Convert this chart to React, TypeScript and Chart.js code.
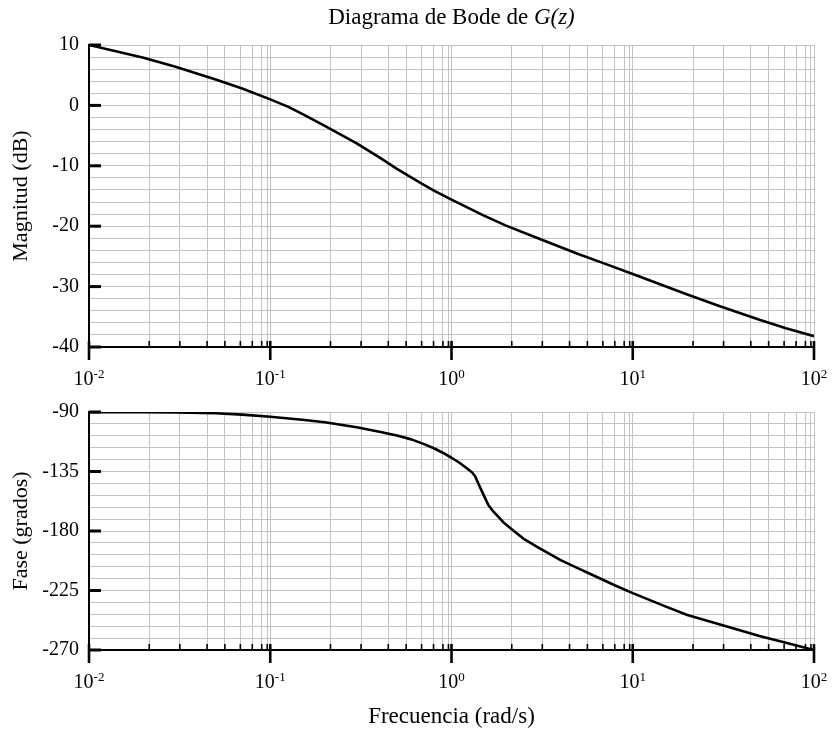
import React, { useEffect, useRef } from 'react';
import { Chart, registerables } from 'chart.js';

Chart.register(...registerables);

const SERIF = '"Liberation Serif", "Times New Roman", serif';

const TITLE_MAIN = 'Diagrama de Bode de ';
const TITLE_ITALIC = 'G(z)';
const MAG_LABEL = 'Magnitud (dB)';
const PHASE_LABEL = 'Fase (grados)';
const FREQ_LABEL = 'Frecuencia (rad/s)';

// Magnitude curve (frequency in rad/s, magnitude in dB)
const magFreq = [0.01, 0.02, 0.03, 0.05, 0.07, 0.1, 0.125, 0.15, 0.2, 0.3, 0.4, 0.5, 0.67, 0.8, 1.0, 1.5, 2.0, 3.0, 5.0, 7.0, 10, 20, 30, 50, 70, 100];
const magDb = [10, 7.9, 6.4, 4.3, 2.8, 1.0, -0.2, -1.4, -3.4, -6.3, -8.6, -10.5, -12.8, -14.1, -15.6, -18.2, -19.9, -22.0, -24.6, -26.2, -27.9, -31.3, -33.2, -35.5, -36.9, -38.2];

// Phase curve (frequency in rad/s, phase in degrees)
const phaseFreq = [0.01, 0.02, 0.03, 0.05, 0.07, 0.1, 0.15, 0.2, 0.3, 0.4, 0.5, 0.6, 0.7, 0.8, 0.9, 1.0, 1.1, 1.2, 1.3, 1.35, 1.4, 1.5, 1.6, 1.7, 1.8, 1.93, 2.2, 2.49, 3.0, 4.0, 5.0, 6.0, 8.0, 10, 15, 20, 30, 50, 70, 100];
const phaseDeg = [-90.2, -90.1, -90.3, -91.0, -92.0, -93.6, -95.9, -97.8, -101.6, -104.9, -107.8, -110.7, -114.1, -117.4, -121.0, -124.6, -128.2, -132.0, -135.8, -138.6, -143.5, -152.5, -160.5, -165.2, -168.8, -173.3, -179.8, -185.7, -192.3, -202.0, -208.3, -213.3, -221.2, -227.0, -236.8, -243.5, -250.6, -259.4, -264.6, -270];

// Axis settings
const X_MIN = 0.01;
const X_MAX = 100;
const X_DECADE_EXPS = [-2, -1, 0, 1];
const X_GRID_MULTIPLES = [1, 2.15, 3.17, 4.48, 5.62, 6.84, 7.96, 8.97, 9.62];

const MAG_MIN = -40, MAG_MAX = 10, MAG_STEP = 2, MAG_LABEL_STEP = 10;
const PHASE_MIN = -270, PHASE_MAX = -90, PHASE_STEP = 9, PHASE_LABEL_STEP = 45;

const X_TICKS: number[] = [];
X_DECADE_EXPS.forEach((e) => {
  X_GRID_MULTIPLES.forEach((m) => X_TICKS.push(parseFloat((m * Math.pow(10, e)).toPrecision(6))));
});
X_TICKS.push(X_MAX);

const GRID_COLOR = '#c2c2c2';
const LABEL_SIZE = 20;
const TITLE_SIZE = 23;
const Y_TITLE_SIZE = 22;

const decorPlugin = {
  id: 'bodeDecor',
  afterDraw(chart: any, _args: any, opts: any) {
    const { ctx, chartArea } = chart;
    const xs = chart.scales.x;
    const ys = chart.scales.y;
    ctx.save();
    ctx.strokeStyle = '#000';
    ctx.fillStyle = '#000';
    ctx.lineCap = 'butt';
    const axisY = chartArea.bottom;
    xs.ticks.forEach((t: any) => {
      const px = xs.getPixelForValue(t.value);
      const lg = Math.log10(t.value);
      const dec = Math.abs(lg - Math.round(lg)) < 1e-6;
      ctx.beginPath();
      if (dec) {
        ctx.lineWidth = 2.6;
        ctx.moveTo(px, axisY - 6);
        ctx.lineTo(px, axisY + 13);
      } else {
        ctx.lineWidth = 1.6;
        ctx.moveTo(px, axisY - 6);
        ctx.lineTo(px, axisY);
      }
      ctx.stroke();
      if (dec) {
        const base = '10';
        const sup = String(Math.round(lg));
        ctx.font = `${LABEL_SIZE}px ${SERIF}`;
        const wb = ctx.measureText(base).width;
        ctx.font = `13px ${SERIF}`;
        const ws = ctx.measureText(sup).width;
        const x0 = px - (wb + ws) / 2;
        ctx.textAlign = 'left';
        ctx.textBaseline = 'alphabetic';
        ctx.font = `${LABEL_SIZE}px ${SERIF}`;
        ctx.fillText(base, x0, axisY + 37.5);
        ctx.font = `13px ${SERIF}`;
        ctx.fillText(sup, x0 + wb, axisY + 31);
      }
    });
    ys.ticks.forEach((t: any) => {
      if (t.value % opts.labelStep !== 0) return;
      const py = ys.getPixelForValue(t.value);
      ctx.lineWidth = 3;
      ctx.beginPath();
      ctx.moveTo(chartArea.left, py);
      ctx.lineTo(chartArea.left + 12, py);
      ctx.stroke();
    });
    if (opts.title) {
      ctx.textBaseline = 'alphabetic';
      ctx.textAlign = 'left';
      ctx.font = `${TITLE_SIZE}px ${SERIF}`;
      const w1 = ctx.measureText(TITLE_MAIN).width;
      ctx.font = `italic ${TITLE_SIZE}px ${SERIF}`;
      const w2 = ctx.measureText(TITLE_ITALIC).width;
      const cx = (chartArea.left + chartArea.right) / 2;
      const x0 = cx - (w1 + w2) / 2;
      ctx.font = `${TITLE_SIZE}px ${SERIF}`;
      ctx.fillText(TITLE_MAIN, x0, 23.5);
      ctx.font = `italic ${TITLE_SIZE}px ${SERIF}`;
      ctx.fillText(TITLE_ITALIC, x0 + w1, 23.5);
    }
    ctx.restore();
  },
};

type PanelProps = {
  freq: number[];
  values: number[];
  yMin: number;
  yMax: number;
  yStep: number;
  yLabelStep: number;
  yTitle: string;
  height: number;
  padTop: number;
  plotBottom: number;
  showTitle: boolean;
  xTitle?: string;
};

function BodePanel(p: PanelProps) {
  const ref = useRef<HTMLCanvasElement | null>(null);
  useEffect(() => {
    if (!ref.current) return;
    const xHeight = p.height - p.plotBottom;
    const chart = new Chart(ref.current, {
      type: 'line',
      data: {
        datasets: [
          {
            data: p.freq.map((f, i) => ({ x: f, y: p.values[i] })),
            borderColor: '#000',
            borderWidth: 2.6,
            pointRadius: 0,
            tension: 0,
            fill: false,
            borderJoinStyle: 'round',
          },
        ],
      },
      options: {
        animation: false,
        responsive: false,
        maintainAspectRatio: false,
        events: [],
        layout: { padding: { top: p.padTop, right: 18, left: 0, bottom: 0 } },
        plugins: {
          legend: { display: false },
          tooltip: { enabled: false },
          title: { display: false },
          bodeDecor: { title: p.showTitle, labelStep: p.yLabelStep },
        } as any,
        scales: {
          x: {
            type: 'logarithmic',
            min: X_MIN,
            max: X_MAX,
            afterBuildTicks: (s: any) => {
              s.ticks = X_TICKS.map((v) => ({ value: v }));
            },
            afterFit: (s: any) => {
              s.height = xHeight;
            },
            ticks: { display: false, autoSkip: false },
            grid: { color: GRID_COLOR, lineWidth: 1, drawTicks: false },
            border: { display: true, color: '#000', width: 2 },
            title: {
              display: !!p.xTitle,
              text: p.xTitle || '',
              color: '#000',
              font: { family: SERIF, size: TITLE_SIZE, lineHeight: 1.2 },
              padding: { top: 0, bottom: 3 },
            },
          },
          y: {
            type: 'linear',
            min: p.yMin,
            max: p.yMax,
            afterFit: (s: any) => {
              s.width = 89;
            },
            ticks: {
              stepSize: p.yStep,
              autoSkip: false,
              color: '#000',
              padding: 10,
              font: { family: SERIF, size: LABEL_SIZE },
              callback: (v: any) => (Number(v) % p.yLabelStep === 0 ? String(v) : ''),
            },
            grid: { color: GRID_COLOR, lineWidth: 1, drawTicks: false },
            border: { display: true, color: '#000', width: 2 },
            title: {
              display: true,
              text: p.yTitle,
              color: '#000',
              font: { family: SERIF, size: Y_TITLE_SIZE, lineHeight: 1.2 },
              padding: { top: 8.5, bottom: 0 },
            },
          },
        },
      } as any,
      plugins: [decorPlugin as any],
    });
    return () => chart.destroy();
  }, []);
  return <canvas ref={ref} width={832} height={p.height} style={{ display: 'block', width: 832, height: p.height }} />;
}

export default function App() {
  return (
    <div style={{ position: 'absolute', left: 0, top: 0, width: 832, height: 734, background: '#fff' }}>
      <div style={{ position: 'absolute', left: 0, top: 0 }}>
        <BodePanel
          freq={magFreq}
          values={magDb}
          yMin={MAG_MIN}
          yMax={MAG_MAX}
          yStep={MAG_STEP}
          yLabelStep={MAG_LABEL_STEP}
          yTitle={MAG_LABEL}
          height={390}
          padTop={45}
          plotBottom={347}
          showTitle={true}
        />
      </div>
      <div style={{ position: 'absolute', left: 0, top: 390 }}>
        <BodePanel
          freq={phaseFreq}
          values={phaseDeg}
          yMin={PHASE_MIN}
          yMax={PHASE_MAX}
          yStep={PHASE_STEP}
          yLabelStep={PHASE_LABEL_STEP}
          yTitle={PHASE_LABEL}
          height={344}
          padTop={18}
          plotBottom={260}
          showTitle={false}
          xTitle={FREQ_LABEL}
        />
      </div>
    </div>
  );
}
